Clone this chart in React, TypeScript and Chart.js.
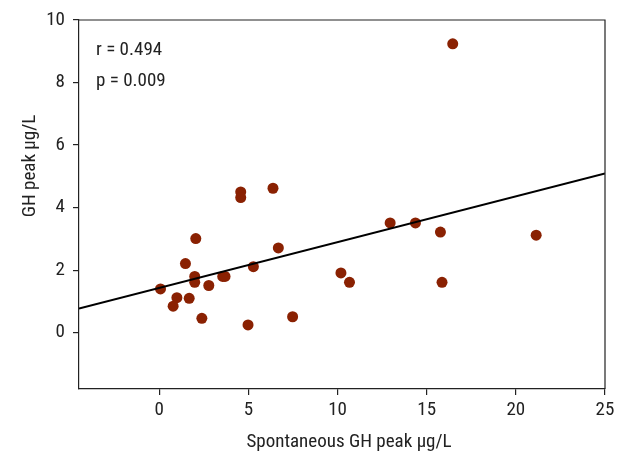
import React, { useEffect, useRef } from "react";
import { Chart, registerables } from "chart.js";

Chart.register(...registerables);

const spontaneousPeak = [0.07, 0.99, 0.78, 1.68, 1.47, 2.05, 1.99, 1.99, 2.78, 2.39, 3.56, 3.69, 5.28, 4.98, 4.57, 4.57, 6.38, 6.68, 7.48, 10.19, 10.67, 12.95, 14.37, 15.77, 15.86, 21.14, 16.46];
const ghPeak = [1.40, 1.12, 0.85, 1.10, 2.21, 3.01, 1.80, 1.61, 1.51, 0.46, 1.80, 1.80, 2.11, 0.25, 4.50, 4.32, 4.62, 2.71, 0.51, 1.91, 1.61, 3.51, 3.51, 3.22, 1.61, 3.12, 9.24];
const fitX = [-4.5, 25];
const fitIntercept = 1.43;
const fitSlope = 0.1464;
const xTicks = [0, 5, 10, 15, 20, 25];
const yTicks = [0, 2, 4, 6, 8, 10];
const xTitle = "Spontaneous GH peak \u03bcg/L";
const yTitle = "GH peak \u03bcg/L";
const statsLines = ["r = 0.494", "p = 0.009"];

const FONT = "'Liberation Sans Narrow', 'Arial Narrow', 'Roboto Condensed', 'Liberation Sans', sans-serif";
const TEXT = "#222222";

export default function App() {
  const ref = useRef<HTMLCanvasElement | null>(null);
  useEffect(() => {
    document.body.style.margin = "0";
    const canvas = ref.current;
    if (!canvas) return;
    const overlay = {
      id: "overlay",
      afterDraw(chart: any) {
        const { ctx, chartArea } = chart;
        ctx.save();
        ctx.strokeStyle = TEXT;
        ctx.lineWidth = 1.2;
        ctx.beginPath();
        ctx.moveTo(chartArea.left, chartArea.top);
        ctx.lineTo(chartArea.right, chartArea.top);
        ctx.lineTo(chartArea.right, chartArea.bottom);
        ctx.stroke();
        ctx.fillStyle = TEXT;
        ctx.font = `19px ${FONT}`;
        ctx.textAlign = "left";
        ctx.textBaseline = "alphabetic";
        ctx.fillText(statsLines[0], 96, 55);
        ctx.fillText(statsLines[1], 96, 86);
        ctx.textAlign = "center";
        ctx.fillText(xTitle, 349, 447);
        ctx.translate(35, 166);
        ctx.rotate(-Math.PI / 2);
        ctx.fillText(yTitle, 0, 0);
        ctx.restore();
      },
    };
    const chart = new Chart(canvas, {
      type: "scatter",
      data: {
        datasets: [
          {
            type: "line",
            data: fitX.map((x) => ({ x, y: fitIntercept + fitSlope * x })),
            borderColor: "#000000",
            borderWidth: 2,
            pointRadius: 0,
            fill: false,
          } as any,
          {
            data: spontaneousPeak.map((x, i) => ({ x, y: ghPeak[i] })),
            backgroundColor: "#8a2102",
            borderColor: "#8a2102",
            pointRadius: 5.5,
            borderWidth: 0,
          },
        ],
      },
      plugins: [overlay],
      options: {
        animation: false,
        responsive: false,
        events: [],
        layout: { padding: { top: 20, right: 20, left: 0, bottom: 0 } },
        plugins: { legend: { display: false }, tooltip: { enabled: false } },
        scales: {
          x: {
            type: "linear",
            min: -4.5,
            max: 25,
            afterBuildTicks: (s: any) => {
              s.ticks = xTicks.map((v) => ({ value: v }));
            },
            afterFit: (s: any) => {
              s.height = 65;
            },
            grid: { drawOnChartArea: false, drawTicks: true, tickLength: 6, color: TEXT, lineWidth: 1.2 },
            border: { display: true, color: TEXT, width: 1.2 },
            ticks: { color: TEXT, font: { family: FONT, size: 19 }, padding: 4, maxRotation: 0 },
          },
          y: {
            type: "linear",
            min: -1.8,
            max: 10,
            afterBuildTicks: (s: any) => {
              s.ticks = yTicks.map((v) => ({ value: v }));
            },
            afterFit: (s: any) => {
              s.width = 79;
            },
            grid: { drawOnChartArea: false, drawTicks: true, tickLength: 6, color: TEXT, lineWidth: 1.2 },
            border: { display: true, color: TEXT, width: 1.2 },
            ticks: { color: TEXT, font: { family: FONT, size: 19 }, padding: 8 },
          },
        },
      },
    });
    return () => chart.destroy();
  }, []);
  return (
    <div style={{ width: 625, height: 454 }}>
      <canvas ref={ref} width={625} height={454} style={{ display: "block" }} />
    </div>
  );
}
